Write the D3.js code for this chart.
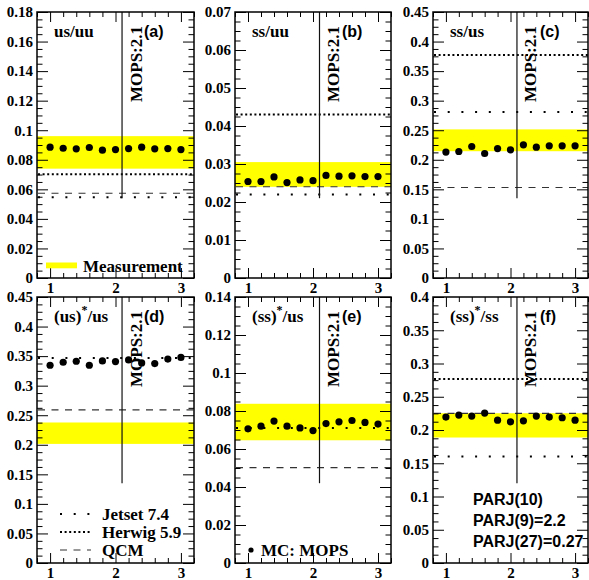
<!DOCTYPE html>
<html><head><meta charset="utf-8">
<script src="https://cdn.jsdelivr.net/npm/d3@7"></script>
<style>
html,body{margin:0;padding:0;background:#fff;}
svg{display:block;}
</style></head><body>
<svg id="chart" width="589" height="580"></svg>
<script>
// Scan points of the MOPS string parameter
const xPoints = [1.0, 1.2, 1.4, 1.6, 1.8, 2.0, 2.2, 2.4, 2.6, 2.8, 3.0];
const xTicks = [1, 2, 3];
const mopsDefault = 2.1;

const panelKeys = ["a", "b", "c", "d", "e", "f"];
const yMaxima = [0.18, 0.07, 0.45, 0.45, 0.14, 0.4];
const yMajorSteps = [0.02, 0.01, 0.05, 0.05, 0.02, 0.05];

// MC: MOPS predictions per panel
const mopsA = [0.0885, 0.0878, 0.0874, 0.0883, 0.0865, 0.0869, 0.0876, 0.0885, 0.0874, 0.0876, 0.0869];
const mopsB = [0.0254, 0.0254, 0.0266, 0.0251, 0.0258, 0.0256, 0.0270, 0.0268, 0.0269, 0.0267, 0.0267];
const mopsC = [0.2130, 0.2140, 0.2225, 0.2106, 0.2190, 0.2168, 0.2253, 0.2213, 0.2236, 0.2236, 0.2236];
const mopsD = [0.3345, 0.3396, 0.3413, 0.3345, 0.3418, 0.3407, 0.3435, 0.3385, 0.3373, 0.3450, 0.3478];
const mopsE = [0.0706, 0.0720, 0.0747, 0.0720, 0.0711, 0.0697, 0.0734, 0.0743, 0.0750, 0.0740, 0.0731];
const mopsF = [0.2194, 0.2224, 0.2209, 0.2254, 0.2148, 0.2123, 0.2138, 0.2209, 0.2194, 0.2184, 0.2148];
const mopsSeries = [mopsA, mopsB, mopsC, mopsD, mopsE, mopsF];

// Measured ratio bands (low / high edge)
const measLow  = [0.0740, 0.0240, 0.2145, 0.2015, 0.0646, 0.1887];
const measHigh = [0.0960, 0.0305, 0.2514, 0.2377, 0.0838, 0.2252];

// Generator / model reference values
const jetset = [0.0546, 0.0220, 0.2810, 0.3470, 0.0710, 0.1600];
const herwig = [0.0702, 0.0430, 0.3774, null, null, 0.2767];
const qcm    = [0.0573, 0.0240, 0.1530, 0.2590, 0.0502, 0.2250];

// Ratio titles: base text, superscript, rest
const titleBase = ["us/uu", "ss/uu", "ss/us", "(us)", "(ss)", "(ss)"];
const titleSup  = ["", "", "", "*", "*", "*"];
const titleRest = ["", "", "", "/us", "/us", "/ss"];

const legendLabels = ["Jetset 7.4", "Herwig 5.9", "QCM"];
const mcLabel = "MC: MOPS";
const measLabel = "Measurement";
const parjLines = ["PARJ(10)", "PARJ(9)=2.2", "PARJ(27)=0.27"];

const svg = d3.select("#chart");
const colLeft = [37, 235, 433];
const colRight = [194, 391, 588];
const rowTop = [12, 297];
const panelH = 266;

const SERIF = "'Liberation Serif','Times New Roman',serif";
const SANS = "'Liberation Sans',Arial,Helvetica,sans-serif";
const YELLOW = "#ffff00";

const lineStyles = {
  jetset: {dash: "2,11.7", width: 2},
  herwig: {dash: "2,2.6", width: 2},
  qcm: {dash: "7,6.5", width: 1.1}
};

function fmt(v) { return String(+v.toFixed(3)); }

panelKeys.forEach((key, i) => {
  const col = i % 3, row = Math.floor(i / 3);
  const L = colLeft[col], R = colRight[col], T = rowTop[row], B = T + panelH;
  const x = d3.scaleLinear().domain([0.8, 3.2]).range([L, R]);
  const y = d3.scaleLinear().domain([0, yMaxima[i]]).range([B, T]);
  const g = svg.append("g").attr("class", "panel-" + key);

  // measurement band
  g.append("rect")
    .attr("x", x(0.8)).attr("width", x(3.2) - x(0.8))
    .attr("y", y(measHigh[i])).attr("height", y(measLow[i]) - y(measHigh[i]))
    .attr("fill", YELLOW);

  // reference lines
  const refs = [["qcm", qcm[i]], ["herwig", herwig[i]], ["jetset", jetset[i]]];
  refs.forEach(([name, v]) => {
    if (v == null) return;
    const st = lineStyles[name];
    g.append("line")
      .attr("x1", x(0.8) + 1).attr("x2", x(3.2))
      .attr("y1", y(v)).attr("y2", y(v))
      .attr("stroke", name === "qcm" ? "#333" : "#000")
      .attr("stroke-width", st.width)
      .attr("stroke-dasharray", st.dash);
  });

  // default MOPS parameter marker
  g.append("line")
    .attr("x1", x(mopsDefault)).attr("x2", x(mopsDefault))
    .attr("y1", T).attr("y2", y(yMaxima[i] * 0.3))
    .attr("stroke", "#111").attr("stroke-width", 1.2);

  // MC points
  g.selectAll("circle.mc").data(mopsSeries[i]).enter().append("circle")
    .attr("class", "mc")
    .attr("cx", (d, j) => x(xPoints[j]))
    .attr("cy", d => y(d))
    .attr("r", 3.6).attr("fill", "#000");

  // axes with inward ticks
  const step = yMajorSteps[i];
  const yMajor = d3.range(0, yMaxima[i] + step / 2, step);
  const yMinor = d3.range(0, yMaxima[i] + step / 8, step / 4)
    .filter(v => Math.abs(v / step - Math.round(v / step)) > 1e-6);
  const xMinor = d3.range(0.8, 3.21, 0.2).filter(v => Math.abs(v - Math.round(v)) > 1e-6);

  const axisStyle = sel => {
    sel.select(".domain").remove();
    sel.selectAll("line").attr("stroke", "#000").attr("stroke-width", 1);
    sel.selectAll("text").attr("font-family", SERIF).attr("font-weight", "bold")
      .attr("font-size", 15).attr("fill", "#000");
  };

  g.append("g").attr("transform", `translate(${L},0)`)
    .call(d3.axisLeft(y).tickValues(yMajor).tickSize(-11).tickPadding(4).tickFormat(fmt))
    .call(axisStyle);
  g.append("g").attr("transform", `translate(${L},0)`)
    .call(d3.axisLeft(y).tickValues(yMinor).tickSize(-5.5).tickFormat(""))
    .call(axisStyle);
  g.append("g").attr("transform", `translate(${R},0)`)
    .call(d3.axisRight(y).tickValues(yMajor).tickSize(-11).tickFormat(""))
    .call(axisStyle);
  g.append("g").attr("transform", `translate(${R},0)`)
    .call(d3.axisRight(y).tickValues(yMinor).tickSize(-5.5).tickFormat(""))
    .call(axisStyle);
  g.append("g").attr("transform", `translate(0,${B})`)
    .call(d3.axisBottom(x).tickValues(xTicks).tickSize(-10).tickPadding(4).tickFormat(d3.format("d")))
    .call(axisStyle);
  g.append("g").attr("transform", `translate(0,${B})`)
    .call(d3.axisBottom(x).tickValues(xMinor).tickSize(-5).tickFormat(""))
    .call(axisStyle);
  g.append("g").attr("transform", `translate(0,${T})`)
    .call(d3.axisTop(x).tickValues(xTicks).tickSize(-10).tickFormat(""))
    .call(axisStyle);
  g.append("g").attr("transform", `translate(0,${T})`)
    .call(d3.axisTop(x).tickValues(xMinor).tickSize(-5).tickFormat(""))
    .call(axisStyle);

  // frame
  g.append("rect").attr("x", L).attr("y", T).attr("width", R - L).attr("height", panelH)
    .attr("fill", "none").attr("stroke", "#000").attr("stroke-width", 1.5);

  // ratio title
  const t = g.append("text").attr("x", L + 17).attr("y", T + 25)
    .attr("font-family", SERIF).attr("font-weight", "bold").attr("font-size", 17);
  t.append("tspan").text(titleBase[i]);
  if (titleSup[i]) {
    t.append("tspan").attr("dy", -8).attr("font-size", 12).text(titleSup[i]);
    t.append("tspan").attr("dy", 8).text(titleRest[i]);
  }

  // panel letter
  g.append("text").attr("x", L + 107).attr("y", T + 25)
    .attr("font-family", SANS).attr("font-weight", "bold").attr("font-size", 16)
    .text("(" + key + ")");

  // MOPS default label
  g.append("text")
    .attr("transform", `translate(${x(mopsDefault) + 19.5},${T + 90}) rotate(-90)`)
    .attr("font-family", SERIF).attr("font-weight", "bold").attr("font-size", 17)
    .text("MOPS:2.1");

  // panel-specific legends and notes
  if (key === "a") {
    g.append("rect").attr("x", L + 9).attr("y", B - 15.5).attr("width", 31).attr("height", 5.8)
      .attr("fill", YELLOW);
    g.append("text").attr("x", L + 46).attr("y", B - 6)
      .attr("font-family", SERIF).attr("font-weight", "bold").attr("font-size", 17)
      .text(measLabel);
  }
  if (key === "d") {
    ["jetset", "herwig", "qcm"].forEach((name, k) => {
      const st = lineStyles[name];
      const ly = B - 49 + k * 18;
      g.append("line").attr("x1", L + 23).attr("x2", L + 54)
        .attr("y1", ly).attr("y2", ly)
        .attr("stroke", name === "qcm" ? "#333" : "#000")
        .attr("stroke-width", st.width).attr("stroke-dasharray", st.dash);
      g.append("text").attr("x", L + 65).attr("y", ly + 5.5)
        .attr("font-family", SERIF).attr("font-weight", "bold").attr("font-size", 17)
        .text(legendLabels[k]);
    });
  }
  if (key === "e") {
    g.append("circle").attr("cx", L + 16).attr("cy", B - 13).attr("r", 2.6).attr("fill", "#000");
    g.append("text").attr("x", L + 26).attr("y", B - 7)
      .attr("font-family", SERIF).attr("font-weight", "bold").attr("font-size", 17)
      .text(mcLabel);
  }
  if (key === "f") {
    parjLines.forEach((s, k) => {
      g.append("text").attr("x", L + 40).attr("y", B - 58.5 + k * 21.3)
        .attr("font-family", SANS).attr("font-weight", "bold").attr("font-size", 16)
        .text(s);
    });
  }
});
</script>
</body></html>
